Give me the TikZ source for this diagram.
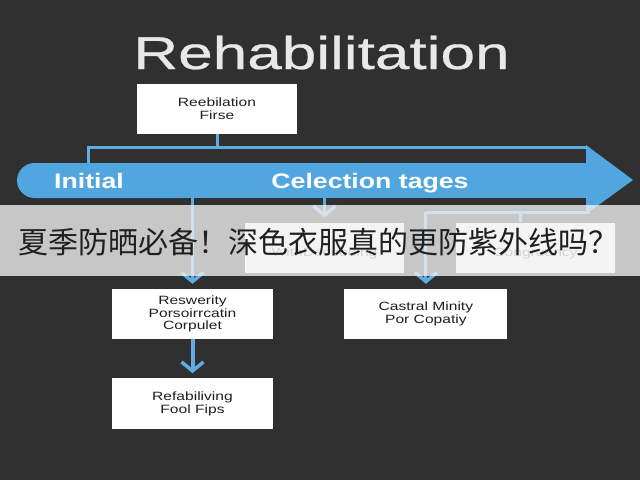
\documentclass[tikz,border=0pt]{standalone}
\usepackage{fontspec}
\setmainfont{Liberation Sans}
\newfontfamily\titlefam[FakeStretch=1.35,FakeBold=0.6]{Liberation Sans}
\newfontfamily\bandfam[FakeStretch=1.27]{Liberation Sans}
\newfontfamily\boxfam[FakeStretch=1.3]{Liberation Sans}
\newfontfamily\cjk{Noto Sans CJK SC}
\usetikzlibrary{calc,positioning,arrows.meta}

\definecolor{bgdark}{HTML}{303030}
\definecolor{bandblue}{HTML}{52A6DF}
\definecolor{linkblue}{HTML}{5EACE0}
\definecolor{titlegray}{HTML}{E8E8E8}
\definecolor{bannergray}{HTML}{F2F2F2}

\begin{document}
\begin{tikzpicture}[x=1pt, y=-1pt, inner sep=0pt,
    box/.style={fill=white, minimum width=160pt, minimum height=50pt, align=center, text=black!88, font=\boxfam\fontsize{12}{12.5}\selectfont},
    ghost/.style={box, text=black!60},
    bandtext/.style={anchor=base, text=white, font=\bandfam\bfseries\fontsize{21}{21}\selectfont},
    link/.style={draw=linkblue, line width=3pt},
    tip/.style={-{Straight Barb[length=9pt,width=22pt,line width=3.5pt]}, shorten >=5pt}]
    \useasboundingbox (0,0) rectangle (640,480);
    \fill[bgdark] (0,0) rectangle (640,480);

    \node[anchor=base, text=titlegray, font=\titlefam\fontsize{46}{46}\selectfont] (title) at (321.5,69) {Rehabilitation};

    % big arrow
    \fill[bandblue] (586,145) -- (633,180) -- (586,214) -- cycle;
    \fill[bandblue, rounded corners=17.5pt] (17,163) rectangle (200,198);
    \fill[bandblue] (100,163) rectangle (592,198);
    \coordinate (barL) at (88,163);
    \coordinate (barR) at (588,147);
    \coordinate (barB) at (590,212);
    \coordinate (bandB) at (0,198);
    \coordinate (joint) at (520,212);
    \draw[link] (barL) |- (barR);
    \node[bandtext] (initial) at (89,188) {Initial};
    \node[bandtext] (stages) at (370,188) {Celection tages};

    \node[box] (first) at (217,108.5) {Reebilation\\Firse};
    \node[ghost, minimum width=159pt] (ordering) at (324.5,247.5) {\\[8pt]WithDecuoding};
    \node[ghost, minimum width=159pt] (congruancy) at (535.5,247.5) {\\[8pt]Congruancy};
    \node[box, minimum width=161pt] (resw) at (192.5,314) {Reswerity\\Porsoirrcatin\\Corpulet};
    \node[box, minimum width=161pt, minimum height=51pt, below=39pt of resw] (refab) {Refabiliving\\Fool Fips};
    \node[box, minimum width=163pt, right=71pt of resw] (castral) {Castral Minity\\Por Copatiy};

    \draw[link] (first.south) -- (first.south |- barR);
    \draw[link] (castral.north |- barB) -- (barB);
    \draw[link,tip] (resw.north |- bandB) -- (resw.north);
    \draw[link,tip] (ordering.north |- bandB) -- (ordering.north);
    \draw[link,tip] (castral.north |- barB) -- (castral.north);
    \draw[link] (joint) -- (joint |- congruancy.north);
    \draw[link,tip,line width=4pt] (resw.south) -- (refab.north);

    % caption banner
    \fill[bannergray, opacity=0.78] (0,205) rectangle (640,276);
    \node[anchor=west, text=black!88, font=\cjk\fontsize{30}{30}\selectfont] (caption) at (18,242) {夏季防晒必备！深色衣服真的更防紫外线吗？};
\end{tikzpicture}
\end{document}
